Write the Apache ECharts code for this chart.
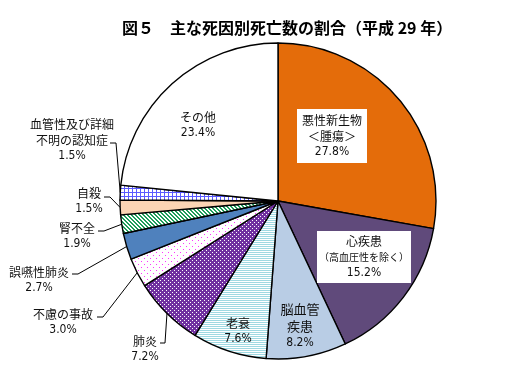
<!DOCTYPE html>
<html><head><meta charset="utf-8">
<script src="https://cdn.jsdelivr.net/npm/echarts@6/dist/echarts.min.js"></script>
<style>html,body{margin:0;padding:0;background:#fff}#c{width:511px;height:374px}</style>
</head><body><div id="c"></div>
<script>
// ---- data ----
const titleText = '図５　主な死因別死亡数の割合（平成 29 年）';
const categories = ['悪性新生物＜腫瘍＞', '心疾患（高血圧性を除く）', '脳血管疾患', '老衰', '肺炎', '不慮の事故', '誤嚥性肺炎', '腎不全', '自殺', '血管性及び詳細不明の認知症', 'その他'];
const labelNameLines = [['悪性新生物', '＜腫瘍＞'], ['心疾患', '（高血圧性を除く）'], ['脳血管', '疾患'], ['老衰'], ['肺炎'], ['不慮の事故'], ['誤嚥性肺炎'], ['腎不全'], ['自殺'], ['血管性及び詳細', '不明の認知症'], ['その他']];
const values = [27.8, 15.2, 8.2, 7.6, 7.2, 3.0, 2.7, 1.9, 1.5, 1.5, 23.4];

// ---- styling ----
function pattern(size, bg, draw) {
  const c = document.createElement('canvas');
  c.width = c.height = size;
  const ctx = c.getContext('2d');
  ctx.fillStyle = bg; ctx.fillRect(0, 0, size, size);
  draw(ctx);
  return { image: c, repeat: 'repeat' };
}
const fills = [
  '#E46C0A',
  '#604A7B',
  '#B9CDE5',
  pattern(2, '#FFFFFF', ctx => { ctx.fillStyle = '#9FD9E2'; ctx.fillRect(0, 0, 2, 1); }),
  pattern(4, '#7030A0', ctx => { ctx.fillStyle = '#FFFFFF'; ctx.fillRect(0, 0, 1, 1); ctx.fillRect(2, 2, 1, 1); }),
  pattern(6, '#FFFFFF', ctx => { ctx.fillStyle = '#FF33FF'; ctx.fillRect(0, 0, 1, 1); ctx.fillRect(3, 3, 1, 1); }),
  '#4F81BD',
  pattern(4, '#FFFFFF', ctx => { ctx.fillStyle = '#1E9E5A'; for (let y = 0; y < 4; y++) { ctx.fillRect((y) % 4, y, 1, 1); ctx.fillRect((y + 1) % 4, y, 1, 1); } }),
  '#FBD4B4',
  pattern(4, '#FFFFFF', ctx => { ctx.fillStyle = '#5A5AFF'; ctx.fillRect(0, 0, 4, 1); ctx.fillRect(0, 0, 1, 4); }),
  '#FFFFFF'
];
// label placement (block centre) and leader elbows
const place = [
  { x: 332, y: 136, inside: true, bg: true },
  { x: 364, y: 257, inside: true, bg: true },
  { x: 300, y: 326, inside: true },
  { x: 238, y: 331, inside: true },
  { x: 145, y: 349, elbow: [165, 343], end: [160, 343] },
  { x: 63, y: 322, elbow: [103, 317], end: [97, 317] },
  { x: 39, y: 280, elbow: [78, 274], end: [72, 274] },
  { x: 77, y: 236, elbow: [104, 231], end: [98, 231] },
  { x: 89, y: 201, elbow: [110, 197], end: [104, 197] },
  { x: 72, y: 140, elbow: [116, 143], end: [110, 143] },
  { x: 198, y: 125, inside: true }
];
const C = [278, 201], R = 158;
const numFont = '"Liberation Sans Narrow", "Arial Narrow", "DejaVu Sans Condensed", sans-serif';

const chart = echarts.init(document.getElementById('c'), null, { renderer: 'canvas' });
const data = categories.map((name, i) => ({
  name: name,
  value: values[i],
  itemStyle: { color: fills[i] },
  label: Object.assign({ position: place[i].inside ? 'inside' : 'outside' },
    place[i].bg ? { backgroundColor: '#FFFFFF', padding: i === 1 ? [2, 2] : [3, 5] } : {}),
  labelLine: { show: !place[i].inside }
}));

chart.setOption({
  animation: false,
  backgroundColor: '#FFFFFF',
  title: {
    text: titleText, left: 117, top: 15,
    textStyle: { fontFamily: 'Noto Sans CJK JP', fontWeight: 'bold', fontSize: 16, color: '#000' }
  },
  series: [{
    type: 'pie',
    center: C,
    radius: R,
    startAngle: 90,
    clockwise: true,
    avoidLabelOverlap: false,
    emphasis: { disabled: true },
    itemStyle: { borderColor: '#000', borderWidth: 1.4 },
    label: {
      show: true,
      color: '#111',
      formatter: p => {
        const i = p.dataIndex;
        const st = i === 2 ? 'b' : 'n';
        const lines = labelNameLines[i].map((l, k) => '{' + (i === 1 && k === 1 ? 's' : st) + '|' + l + '}');
        return lines.join('\n') + '\n{v|' + values[i].toFixed(1) + '%}';
      },
      rich: {
        n: { fontFamily: 'Noto Sans CJK JP', fontSize: 12, lineHeight: 16, color: '#111', align: 'center' },
        s: { fontFamily: 'Noto Sans CJK JP', fontSize: 10, lineHeight: 16, color: '#111', align: 'center' },
        b: { fontFamily: 'Noto Sans CJK JP', fontSize: 13, lineHeight: 17, color: '#111', align: 'center' },
        v: { fontFamily: numFont, fontSize: 12, lineHeight: 16, color: '#111', align: 'center' }
      }
    },
    labelLine: { show: true, length: 10, length2: 6, lineStyle: { color: '#000', width: 1 } },
    labelLayout: params => {
      const i = params.dataIndex;
      const cfg = place[i];
      const out = { x: cfg.x, y: cfg.y, align: 'center', verticalAlign: 'middle' };
      if (cfg.elbow) {
        let s = params.labelLinePoints && params.labelLinePoints[0];
        if (!s) {
          let cum = 0; for (let k = 0; k < i; k++) cum += values[k];
          const tot = values.reduce((a, b) => a + b, 0);
          const a = (cum + values[i] / 2) / tot * 2 * Math.PI;
          s = [C[0] + R * Math.sin(a), C[1] - R * Math.cos(a)];
        }
        out.labelLinePoints = [s, cfg.elbow, cfg.end];
      }
      return out;
    },
    data: data
  }]
});
</script>
</body></html>
